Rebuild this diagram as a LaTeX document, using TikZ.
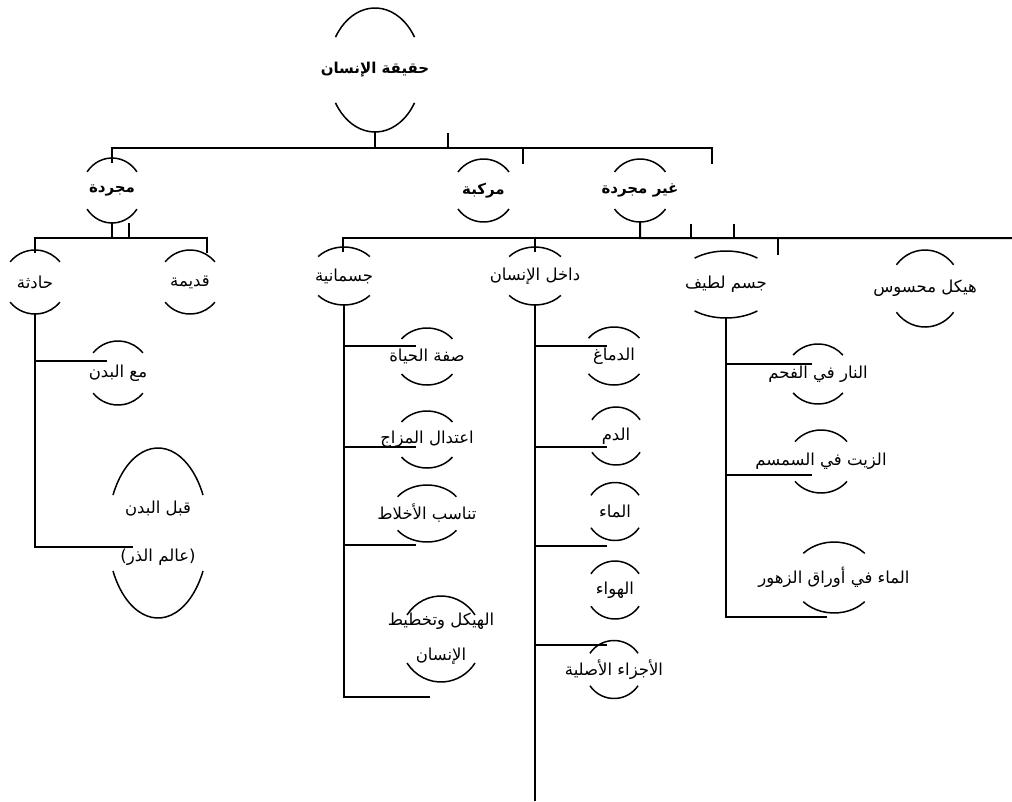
\documentclass[tikz,border=0pt]{standalone}
\usepackage{fontspec}
\newfontfamily\arabicfont[Script=Arabic]{DejaVu Sans}
\TeXXeTstate=1

\tikzset{
  conn/.style={line width=2pt},
  rim/.style={line width=1.5pt},
  bubbletext/.style={inner sep=0pt, minimum height=#1, align=center,
    font=\arabicfont\fontsize{16.5}{20}\selectfont},
  head/.style={font=\arabicfont\bfseries\fontsize{15}{20}\selectfont},
}

% [options]{name}{x,y}{x radius}{y radius}{cut angle}{text}
\newcommand{\bubble}[7][]{%
  \node[bubbletext=2*#5, #1] (#2) at (#3) {#7};
  \draw[rim] (#2.center) ++(180+#6:#4 and #5)
    arc[start angle=180+#6, end angle=360-#6, x radius=#4, y radius=#5];
  \draw[rim] (#2.center) ++(180-#6:#4 and #5)
    arc[start angle=180-#6, end angle=#6, x radius=#4, y radius=#5];
}

\begin{document}
\begin{tikzpicture}[x=1pt, y=-1pt]
  \useasboundingbox (0,0) rectangle (1012,801);

  % top levels
  \bubble[head]{root}{375,70}{46.6}{62}{32}{\beginR حقيقة الإنسان\endR}
  \bubble[head]{mujarrada}{112,190.5}{30.4}{32.5}{35}{\beginR مجردة\endR}
  \bubble[head]{murakkaba}{483.5,190.5}{31.5}{31.5}{36}{\beginR مركبة\endR}
  \bubble[head]{ghayr}{640,190.5}{31.5}{31.5}{36}{\beginR غير مجردة\endR}

  % third level
  \bubble{haditha}{35,282}{32}{32}{39}{\beginR حادثة\endR}
  \bubble{qadima}{190,282}{32}{32}{39}{\beginR قديمة\endR}
  \bubble{jismaniyya}{344,276}{34.8}{29}{42}{\beginR جسمانية\endR}
  \bubble{dakhil}{535,276}{34.8}{29}{42}{\beginR داخل الإنسان\endR}
  \bubble{latif}{726,284.5}{51}{33.5}{52}{\beginR جسم لطيف\endR}
  \bubble{haykal}{925,288.5}{36.3}{38.5}{38}{\beginR هيكل محسوس\endR}

  % under haditha
  \bubble{maa}{118,373}{32}{32}{39}{\beginR مع البدن\endR}
  \bubble{qabl}{158,533}{50.3}{85}{26.5}{\beginR قبل البدن\endR\\[28pt]\beginR (عالم الذر)\endR}

  % under jismaniyya
  \bubble{sifa}{427,356.5}{32.3}{28.5}{38}{\beginR صفة الحياة\endR}
  \bubble{itidal}{427,439.5}{32.3}{28.5}{38}{\beginR اعتدال المزاج\endR}
  \bubble{tanasub}{427,513.5}{36.4}{28.5}{36}{\beginR تناسب الأخلاط\endR}
  \bubble{takhtit}{441,639}{41}{43}{34}{\beginR الهيكل وتخطيط\endR\\[15pt]\beginR الإنسان\endR}

  % under dakhil
  \bubble{dimagh}{614,356}{32.3}{29}{38}{\beginR الدماغ\endR}
  \bubble{dam}{616,436}{29}{29}{34}{\beginR الدم\endR}
  \bubble{maa2}{615,511.5}{29}{29}{34}{\beginR الماء\endR}
  \bubble{hawa}{615,590}{29}{29}{34}{\beginR الهواء\endR}
  \bubble{ajza}{614,669.5}{29}{29}{34}{\beginR الأجزاء الأصلية\endR}

  % under latif
  \bubble{nar}{818,374}{32}{30}{39}{\beginR النار في الفحم\endR}
  \bubble{zayt}{821,461.5}{33.5}{31.5}{39}{\beginR الزيت في السمسم\endR}
  \bubble{awraq}{834,577.5}{42}{35.5}{43}{\beginR الماء في أوراق الزهور\endR}

  \coordinate (rimR) at (1012,238);
  \coordinate (dakhilEnd) at (535,801);

  % root connectors
  \draw[conn] (root.south) -- ++(0,16) -| ([yshift=-5pt]mujarrada.north);
  \draw[conn] (root.south) -- ++(0,16) -| ([shift={(39.5,-26.5)}]murakkaba.center);
  \draw[conn] (root.south) -- ++(0,16) -| ([shift={(72,-26.5)}]ghayr.center);
  \draw[conn] (root.south) -- ++(0,16) -| ([shift={(73,1)}]root.south);

  % mujarrada connectors
  \draw[conn] (mujarrada.south) -- ++(0,15) -| ([yshift=-3pt]haditha.north);
  \draw[conn] (mujarrada.south) -- ++(0,15) -| ([shift={(17,-29)}]qadima.center);
  \draw[conn] (mujarrada.south) -- ++(0,15) -| ([shift={(17,0)}]mujarrada.south);

  % haditha connectors
  \draw[conn] (haditha.south) |- ([shift={(-11,-12)}]maa.center);
  \draw[conn] (haditha.south) |- ([shift={(-25,14)}]qabl.center);

  % ghayr connectors
  \draw[conn] (ghayr.south) -- ++(0,16) -| ([shift={(-1,5)}]jismaniyya.north);
  \draw[conn] (ghayr.south) -- ++(0,16) -| ([yshift=-5pt]dakhil.north);
  \draw[conn] (ghayr.south) -- ++(0,16) -- (rimR);
  \draw[conn] (ghayr.south) -- ++(0,16) -| ([shift={(51,2)}]ghayr.south);
  \draw[conn] (ghayr.south) -- ++(0,16) -| ([shift={(94,2)}]ghayr.south);
  \draw[conn] (ghayr.south) -- ++(0,16) -| ([shift={(52,-29.5)}]latif.center);

  % jismaniyya connectors
  \draw[conn] (jismaniyya.south) |- ([shift={(-11,-10.5)}]sifa.center);
  \draw[conn] (jismaniyya.south) |- ([shift={(-11,7.5)}]itidal.center);
  \draw[conn] (jismaniyya.south) |- ([shift={(-11,31.5)}]tanasub.center);
  \draw[conn] (jismaniyya.south) |- ([shift={(-11,58)}]takhtit.center);

  % dakhil connectors
  \draw[conn] (dakhil.south) |- ([shift={(-7,-10)}]dimagh.center);
  \draw[conn] (dakhil.south) |- ([shift={(-9,11)}]dam.center);
  \draw[conn] (dakhil.south) |- ([shift={(-8,34.5)}]maa2.center);
  \draw[conn] (dakhil.south) |- ([shift={(-7,-24.5)}]ajza.center);
  \draw[conn] (dakhil.south) -- (dakhilEnd);

  % latif connectors
  \draw[conn] (latif.south) |- ([shift={(-6,-10)}]nar.center);
  \draw[conn] (latif.south) |- ([shift={(-9,13.5)}]zayt.center);
  \draw[conn] (latif.south) |- ([shift={(-7,39.5)}]awraq.center);
\end{tikzpicture}
\end{document}
